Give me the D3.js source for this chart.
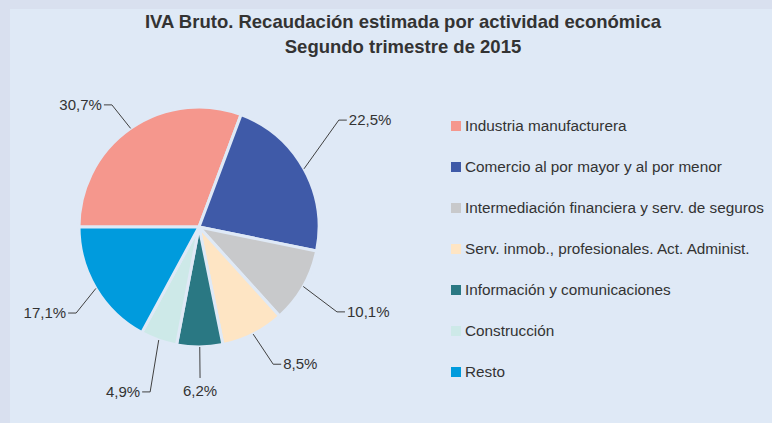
<!DOCTYPE html>
<meta charset="utf-8">
<html>
<head>
<script src="https://d3js.org/d3.v7.min.js"></script>
<style>
body { margin: 0; background-color: #d9e0ef; }
text { font-family: "Liberation Sans", Arial, sans-serif; fill: #333333; }
</style>
</head>
<body>
<div id="chart"></div>
<script>

// data
var categories = ["Industria manufacturera", "Comercio al por mayor y al por menor",
  "Intermediación financiera y serv. de seguros", "Serv. inmob., profesionales. Act. Administ.",
  "Información y comunicaciones", "Construcción", "Resto"];
var shares = [30.7, 22.5, 10.1, 8.5, 6.2, 4.9, 17.1];
var colors = ["#f5978d", "#3f5aa8", "#c8c9cb", "#fee5c4", "#2a7883", "#cde9e8", "#009bdd"];
var titleLines = ["IVA Bruto. Recaudación estimada por actividad económica", "Segundo trimestre de 2015"];

// label layout: angle (deg) and radius of each leader elbow
var labelAngle = [-35.5, 52.6, 121.6, 151.6, 179.6, 196.5, 235];
var labelRadius = [150, 176, 162, 156, 151, 172, 150];

var width = 772, height = 423;
var cx = 199, cy = 227, r = 120;
var panel = "#dfe9f6";

var svg = d3.select("#chart")
  .append("svg")
    .attr("width", width)
    .attr("height", height);

svg.append("rect")
  .attr("x", 10).attr("y", 9)
  .attr("width", width - 10).attr("height", height - 9)
  .attr("fill", panel);

svg.selectAll(".title")
  .data(titleLines)
  .enter()
  .append("text")
    .attr("class", "title")
    .attr("x", 403)
    .attr("y", function(d, i) { return 28 + i * 25; })
    .attr("text-anchor", "middle")
    .style("font-size", "18.5px")
    .style("font-weight", "bold")
    .text(function(d) { return d; });

var pie = d3.pie()
  .sort(null)
  .startAngle(-Math.PI / 2)
  .endAngle(Math.PI * 1.5);

var arcs = pie(shares);
var arc = d3.arc().innerRadius(0).outerRadius(r);

var g = svg.append("g")
  .attr("transform", "translate(" + cx + "," + cy + ")");

g.selectAll("path")
  .data(arcs)
  .enter()
  .append("path")
    .attr("d", arc)
    .attr("fill", function(d, i) { return colors[i]; })
    .attr("stroke", panel)
    .attr("stroke-width", 3)
    .attr("stroke-linejoin", "round");

function fmt(v) { return v.toFixed(1).replace(".", ",") + "%"; }

function polar(a, rad) {
  return [rad * Math.sin(a), -rad * Math.cos(a)];
}

arcs.forEach(function(d, i) {
  var mid = (d.startAngle + d.endAngle) / 2;
  var p0 = polar(mid, r);
  var p1 = polar(labelAngle[i] * Math.PI / 180, labelRadius[i]);
  var bottom = Math.abs(mid - Math.PI) < 0.05;
  var right = p1[0] > 0;
  var pts = [p0, p1];
  if (!bottom) pts.push([p1[0] + (right ? 8 : -8), p1[1]]);

  g.append("path")
    .attr("d", d3.line()(pts))
    .attr("fill", "none")
    .attr("stroke", "#404040")
    .attr("stroke-width", 1);

  var t = g.append("text")
    .style("font-size", "15px")
    .text(fmt(shares[i]));
  if (bottom) {
    t.attr("x", p1[0]).attr("y", p1[1] + 18).attr("text-anchor", "middle");
  } else {
    t.attr("x", p1[0] + (right ? 10 : -10))
      .attr("y", p1[1] + 5)
      .attr("text-anchor", right ? "start" : "end");
  }
});

// legend
var legend = svg.selectAll(".legend")
  .data(categories)
  .enter()
  .append("g")
    .attr("class", "legend")
    .attr("transform", function(d, i) { return "translate(451," + (126 + i * 41) + ")"; });

legend.append("rect")
  .attr("x", 0).attr("y", -5)
  .attr("width", 10).attr("height", 10)
  .attr("fill", function(d, i) { return colors[i]; });

legend.append("text")
  .attr("x", 14)
  .attr("y", 5)
  .style("font-size", "15.3px")
  .text(function(d) { return d; });

</script>
</body>
</html>
